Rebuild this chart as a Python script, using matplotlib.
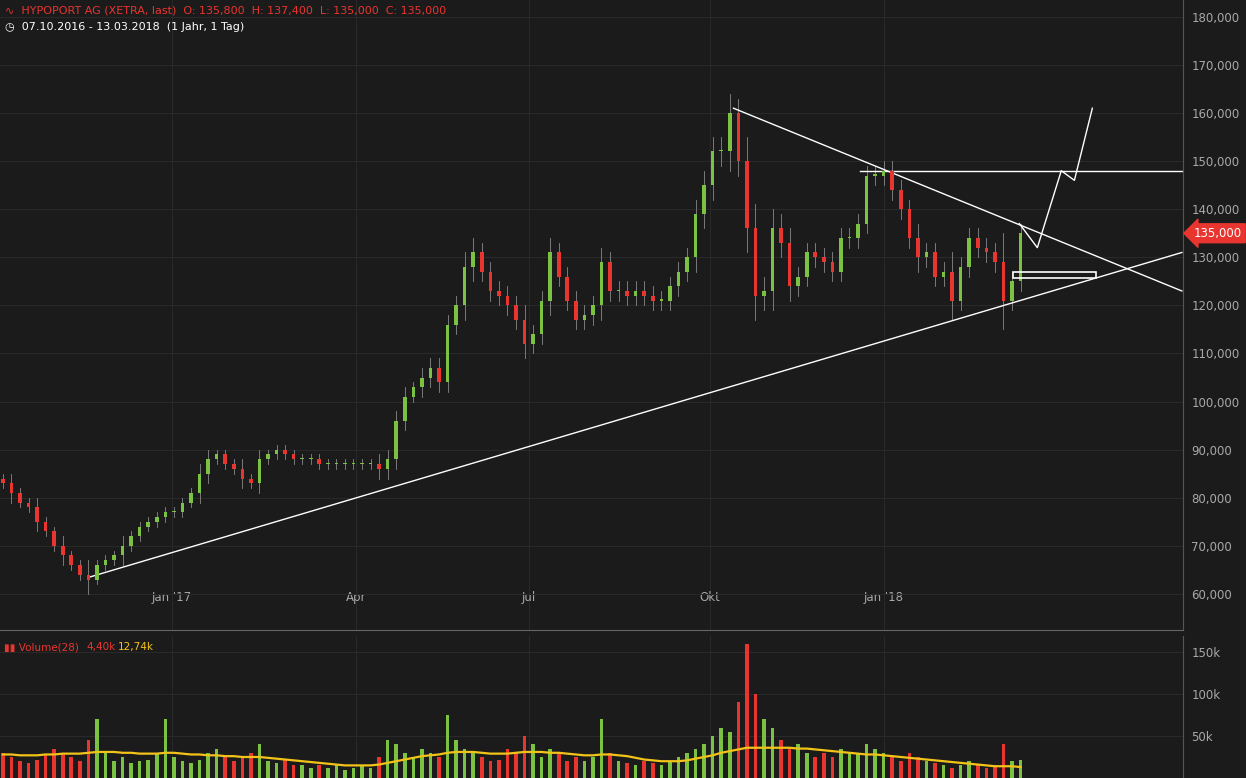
import matplotlib
matplotlib.use("Agg")
import matplotlib.pyplot as plt
from matplotlib.patches import Rectangle

closes = [83,81,79,78,75,73,70,68,66,64,63,66,67,68,70,72,74,75,76,77,
          77,79,81,85,88,89,87,86,84,83,88,89,90,89,88,88,88,87,87,87,
          87,87,87,87,86,88,96,101,103,105,107,104,116,120,128,131,127,123,122,120,
          117,112,114,121,131,126,121,117,118,120,129,123,123,122,123,122,121,121,124,127,
          130,139,145,152,152,160,150,136,122,123,136,133,124,126,131,130,129,127,134,134,
          137,147,147,148,144,140,134,130,131,126,127,121,128,134,132,131,129,121,125,135]
first_open = 84
wicks = [1,2,1,1,2,1,1,2,1,1,3,1,1,1,2,1,1,1,1,1,
         1,1,1,2,2,1,1,1,2,1,2,1,1,1,1,1,1,1,1,1,
         1,1,1,1,2,2,2,2,1,2,2,2,2,2,3,3,2,2,2,2,
         2,3,2,2,3,2,2,2,2,2,3,2,2,2,2,2,2,2,2,2,
         2,3,3,3,3,4,3,5,5,3,4,3,3,2,2,2,2,2,2,2,
         2,2,2,2,2,2,2,3,2,2,2,4,2,2,2,2,2,6,2,2]
volumes = [30,25,20,18,22,28,35,30,25,20,45,70,30,20,25,18,20,22,30,70,
           25,20,18,22,30,35,25,20,25,30,40,20,18,22,15,15,12,15,12,15,
           10,12,15,12,25,45,40,30,25,35,30,25,75,45,35,30,25,20,22,35,
           30,50,40,25,35,30,20,25,20,25,70,30,20,18,15,20,18,15,20,25,
           30,35,40,50,60,55,90,160,100,70,60,45,35,40,30,25,30,25,35,30,
           30,40,35,30,25,20,30,25,20,18,15,12,15,20,15,12,15,40,20,22]
vol_ma = [28,28,27,27,27,28,28,29,29,29,30,31,31,31,30,30,29,29,29,30,
          30,29,28,28,27,27,26,26,25,25,25,24,23,22,21,20,19,18,17,16,
          15,15,15,15,16,18,20,22,24,26,27,28,30,31,31,31,30,29,29,29,
          30,31,31,31,30,30,29,28,27,27,28,28,27,26,24,22,21,20,20,20,
          21,23,25,27,30,32,34,36,36,36,36,36,36,35,35,34,33,32,31,30,
          29,28,28,27,26,25,24,23,22,21,20,19,18,17,16,15,14,14,14,13]

step = 3  # trading days per candle
xs = [i * step for i in range(len(closes))]
opens = [first_open] + closes[:-1]

tick_pos = [59.4, 123.8, 184.6, 247.9, 309.0]
tick_lab = ["Jan '17", "Apr", "Jul", "Okt", "Jan '18"]
price_ticks = [60, 70, 80, 90, 100, 110, 120, 130, 140, 150, 160, 170, 180]
vol_ticks = [50, 100, 150]

BG = "#1b1b1b"
GRID = "#292929"
GREEN = "#7cc242"
RED = "#e8352f"
TXT = "#a8a8a8"

fig = plt.figure(figsize=(12.46, 7.78), dpi=100, facecolor=BG)
ax = fig.add_axes([0, 148/778, 1183/1246, 630/778])
av = fig.add_axes([0, 0, 1183/1246, 142/778])
for a in (ax, av):
    a.set_facecolor(BG)
    for s in a.spines.values():
        s.set_visible(False)
    a.set_xlim(-1, 414)
    a.set_xticks(tick_pos)
    a.grid(True, color=GRID, lw=0.8)
    a.set_axisbelow(True)
    a.yaxis.tick_right()
    a.tick_params(colors=TXT, labelsize=8.5, length=0)
    a.spines['right'].set_visible(True); a.spines['right'].set_color("#555")
ax.spines['bottom'].set_visible(True); ax.spines['bottom'].set_color("#666")

ax.set_ylim(52.5, 183.5)
ax.set_yticks(price_ticks)
ax.set_yticklabels([f"{v},000" for v in price_ticks])
ax.set_xticklabels(tick_lab)
ax.tick_params(axis='x', pad=-28)
ax.tick_params(axis='y', pad=6)

bw = step * 0.42
for x, o, c, w in zip(xs, opens, closes, wicks):
    col = GREEN if c >= o else RED
    hi = max(o, c) + w
    lo = min(o, c) - w
    ax.plot([x, x], [lo, hi], color="#8a8a8a", lw=0.6, zorder=2)
    ax.add_patch(Rectangle((x - bw/2, min(o, c)), bw, max(abs(c - o), 0.3),
                           color=col, zorder=3, lw=0))

ax.plot([30.4, 413.6], [63.5, 131], color="white", lw=1)
ax.plot([256.3, 413.6], [161, 123], color="white", lw=1)
ax.plot([300.7, 413.6], [148, 148], color="white", lw=1)
ax.plot([356.6, 362.9, 371.3, 375.9, 382.2], [137, 132, 148, 146, 161], color="white", lw=1)
ax.add_patch(Rectangle((354.5, 125.7), 29, 1.2, fill=False, ec="white", lw=1.2, zorder=4))

ax.annotate("135,000", xy=(1.0, 135), xycoords=('axes fraction', 'data'),
            xytext=(8, 0), textcoords='offset points', va='center', ha='left',
            color="white", fontsize=8.5, annotation_clip=False,
            bbox=dict(boxstyle="larrow,pad=0.25", fc=RED, ec=RED))

fig.text(0.004, 0.986, "∿  HYPOPORT AG (XETRA, last)  O: 135,800  H: 137,400  L: 135,000  C: 135,000",
         color=RED, fontsize=8, va='center')
fig.text(0.004, 0.965, "◷  07.10.2016 - 13.03.2018  (1 Jahr, 1 Tag)", color="white", fontsize=8, va='center')

av.set_ylim(0, 169)
av.set_yticks(vol_ticks)
av.set_yticklabels([f"{v}k" for v in vol_ticks])
av.set_xticklabels([])
av.tick_params(axis='y', pad=6)
vcols = [GREEN if c >= o else RED for o, c in zip(opens, closes)]
av.bar(xs, volumes, width=bw, color=vcols, zorder=3)
av.plot(xs, vol_ma, color="#f2c318", lw=1.6, zorder=4)
av.text(0.003, 0.92, "▮▮ Volume(28)  ", transform=av.transAxes, color=RED, fontsize=7.5, va='center')
av.text(0.073, 0.92, "4,40k", transform=av.transAxes, color=RED, fontsize=7.5, va='center')
av.text(0.1, 0.92, "12,74k", transform=av.transAxes, color="#f2c318", fontsize=7.5, va='center')

fig.savefig("out.png", dpi=100, facecolor=BG)
